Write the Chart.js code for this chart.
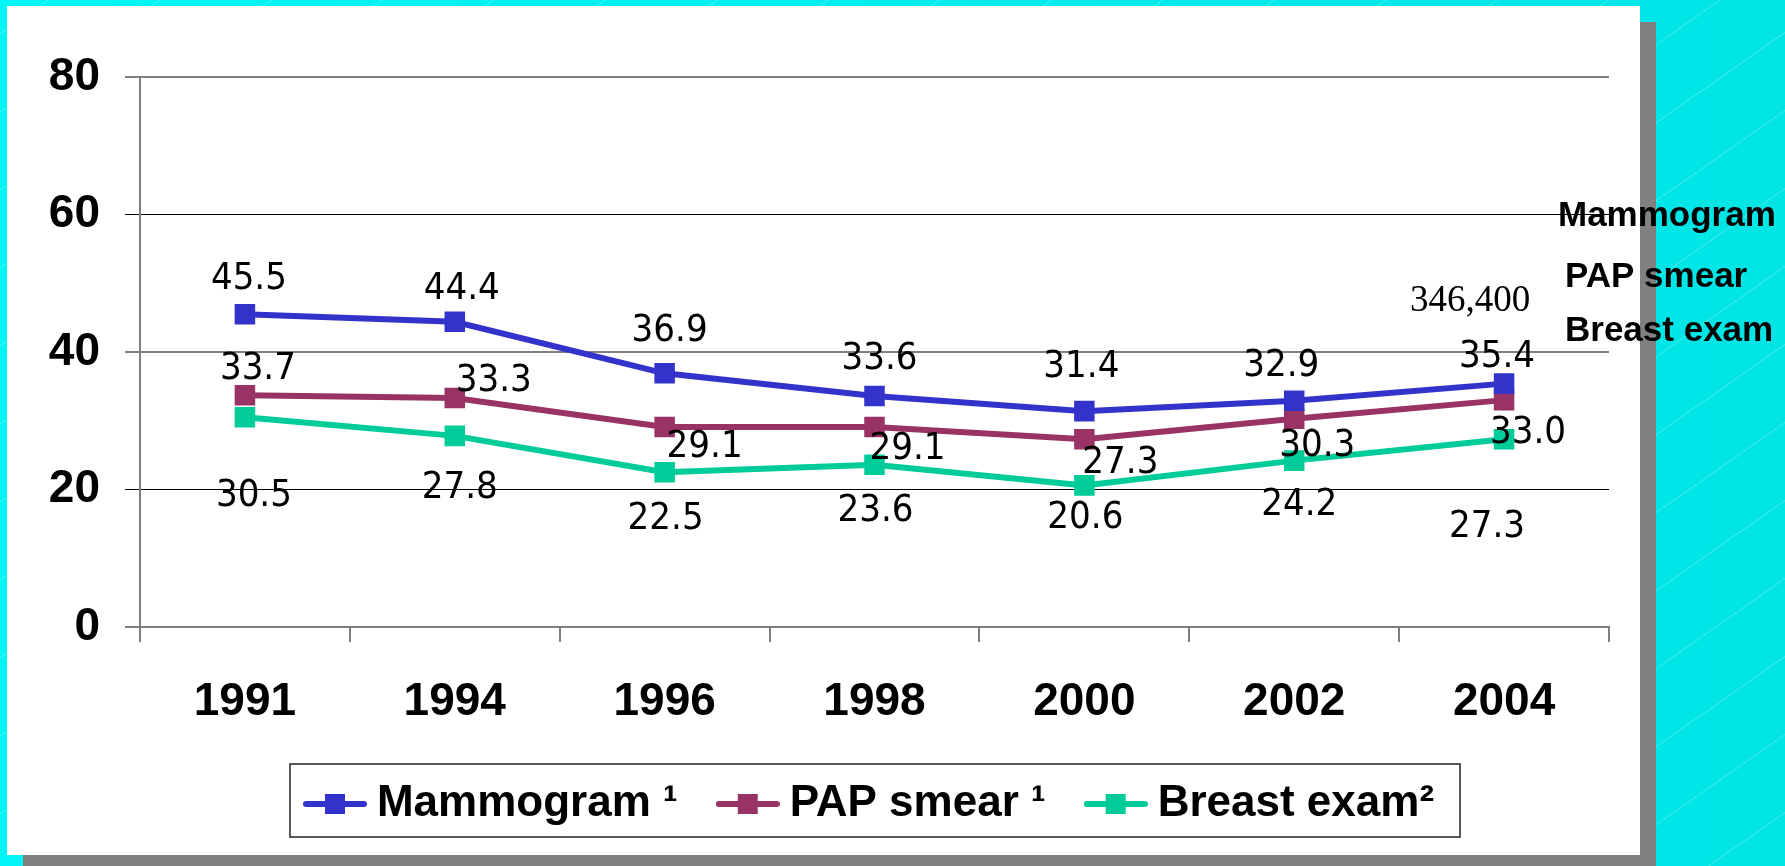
<!DOCTYPE html>
<html>
<head>
<meta charset="utf-8">
<script src="https://cdn.jsdelivr.net/npm/chart.js@4.4.0/dist/chart.umd.min.js"></script>
<style>
  html, body { margin: 0; padding: 0; background: #00e8e8; }
  #wrap { width: 1785px; height: 866px; }
</style>
</head>
<body>
<div id="wrap"><canvas id="chart" width="1785" height="866"></canvas></div>
<script>
// data
const years = ['1991', '1994', '1996', '1998', '2000', '2002', '2004'];
const mammogram = [45.5, 44.4, 36.9, 33.6, 31.4, 32.9, 35.4];
const papSmear = [33.7, 33.3, 29.1, 29.1, 27.3, 30.3, 33.0];
const breastExam = [30.5, 27.8, 22.5, 23.6, 20.6, 24.2, 27.3];
const seriesNames = ['Mammogram \u00b9', 'PAP smear \u00b9', 'Breast exam\u00b2'];
const sideNames = ['Mammogram', 'PAP smear', 'Breast exam'];
const yTicks = [0, 20, 40, 60, 80];
const extraNote = '346,400';

const colors = ['#3333cc', '#993366', '#00cc99'];

// where each value label sits relative to its point (px)
const labelShift = [
  [[4, -35], [7, -33], [5, -42], [5, -37], [-3, -44], [-13, -35], [-7, -27]],
  [[13, -26], [39, -17], [40, 20], [33, 22], [36, 24], [23, 27], [24, 33]],
  [[9, 79], [5, 52], [1, 47], [1, 46], [1, 33], [5, 44], [-17, 88]]
];

const boldFont = '"Liberation Sans", Arial, sans-serif';

function legendMark(color) {
  const c = document.createElement('canvas');
  c.width = 64; c.height = 22;
  const g = c.getContext('2d');
  g.strokeStyle = color;
  g.lineWidth = 6;
  g.lineCap = 'round';
  g.beginPath(); g.moveTo(3, 11); g.lineTo(61, 11); g.stroke();
  g.fillStyle = color;
  g.fillRect(22, 1, 20, 20);
  return c;
}
const marks = colors.map(legendMark);

const backdrop = {
  id: 'backdrop',
  beforeDraw(chart) {
    const { ctx, width, height } = chart;
    ctx.save();
    const grad = ctx.createLinearGradient(0, 0, width, 0);
    grad.addColorStop(0, '#00f6f6');
    grad.addColorStop(1, '#00e4e4');
    ctx.fillStyle = grad;
    ctx.fillRect(0, 0, width, height);
    // faint diagonal streaks
    ctx.strokeStyle = 'rgba(255,255,255,0.3)';
    ctx.lineWidth = 1;
    for (let k = -200; k < height + width; k += 78) {
      ctx.beginPath();
      ctx.moveTo(0, k);
      ctx.lineTo(width, k - width * 0.7);
      ctx.stroke();
    }
    // shadow + white panel
    ctx.fillStyle = '#808080';
    ctx.fillRect(23, 22, 1633, height - 22);
    ctx.fillStyle = '#ffffff';
    ctx.fillRect(7, 6, 1633, 849);
    ctx.restore();
  }
};

// keep the legend centred under the plot area
const legendShift = {
  id: 'legendShift',
  afterLayout(chart) {
    const lg = chart.legend;
    const a = chart.chartArea;
    const dx = (a.left + a.right) / 2 - (lg.left + lg.right) / 2;
    lg.left += dx;
    lg.right += dx;
  }
};

const valueLabels = {
  id: 'valueLabels',
  afterDatasetsDraw(chart) {
    const ctx = chart.ctx;
    ctx.save();
    ctx.font = '38px "DejaVu Sans Condensed", "Liberation Sans", sans-serif';
    ctx.fillStyle = '#000';
    ctx.textAlign = 'center';
    ctx.textBaseline = 'middle';
    chart.data.datasets.forEach((ds, i) => {
      chart.getDatasetMeta(i).data.forEach((pt, j) => {
        const [dx, dy] = labelShift[i][j];
        ctx.fillText(ds.data[j].toFixed(1), pt.x + dx, pt.y + dy);
      });
    });
    ctx.restore();
  }
};

const extras = {
  id: 'extras',
  afterDraw(chart) {
    const ctx = chart.ctx;
    ctx.save();
    // box round the legend
    const hb = chart.legend.legendHitBoxes;
    if (hb && hb.length) {
      const last = hb[hb.length - 1];
      const left = hb[0].left - 25;
      const right = last.left + last.width + 26;
      const cy = hb[0].top + hb[0].height / 2;
      ctx.strokeStyle = '#222';
      ctx.lineWidth = 1.5;
      ctx.strokeRect(left, cy - 40, right - left, 73);
    }
    // side labels
    ctx.fillStyle = '#000';
    ctx.textBaseline = 'alphabetic';
    ctx.textAlign = 'left';
    ctx.font = 'bold 35px ' + boldFont;
    ctx.fillText(sideNames[0], 1558, 226);
    ctx.fillText(sideNames[1], 1565, 287);
    ctx.fillText(sideNames[2], 1565, 341);
    ctx.textAlign = 'center';
    ctx.font = '37px "Liberation Serif", "Times New Roman", serif';
    ctx.fillText(extraNote, 1470, 311);
    ctx.restore();
  }
};

const tickFont = { family: boldFont, size: 46, weight: 'bold' };

new Chart(document.getElementById('chart'), {
  type: 'line',
  data: {
    labels: years,
    datasets: [mammogram, papSmear, breastExam].map((vals, i) => ({
      label: seriesNames[i],
      data: vals,
      borderColor: colors[i],
      backgroundColor: colors[i],
      borderWidth: 6,
      pointStyle: 'rect',
      pointRadius: 14.5,
      pointBorderWidth: 0,
      tension: 0,
      fill: false
    }))
  },
  options: {
    responsive: false,
    animation: false,
    layout: { padding: { left: 0, right: 176, top: 77, bottom: 30 } },
    plugins: {
      tooltip: { enabled: false },
      legend: {
        position: 'bottom',
        labels: {
          usePointStyle: true,
          pointStyleWidth: 40,
          padding: 50,
          color: '#000',
          font: { family: boldFont, size: 44, weight: 'bold' },
          generateLabels(chart) {
            return chart.data.datasets.map((ds, i) => ({
              text: ds.label,
              pointStyle: marks[i],
              fillStyle: colors[i],
              strokeStyle: colors[i],
              lineWidth: 0,
              hidden: false,
              datasetIndex: i
            }));
          }
        }
      }
    },
    scales: {
      x: {
        offset: true,
        grid: { offset: true, drawOnChartArea: false, tickLength: 15, color: '#808080', lineWidth: 2 },
        border: { color: '#808080', width: 2 },
        afterFit(s) { s.height = 105; },
        ticks: { padding: 33, color: '#000', font: tickFont, maxRotation: 0 }
      },
      y: {
        min: 0,
        max: 80,
        afterBuildTicks(s) { s.ticks = yTicks.map(v => ({ value: v })); },
        afterFit(s) { s.width = 140; },
        grid: {
          tickLength: 15,
          color: c => (c.tick && c.tick.value % 40 === 0) ? '#808080' : '#000',
          lineWidth: c => (c.tick && c.tick.value % 40 === 0) ? 2 : 1
        },
        border: { color: '#808080', width: 2 },
        ticks: { padding: 25, color: '#000', font: tickFont }
      }
    }
  },
  plugins: [backdrop, legendShift, valueLabels, extras]
});
</script>
</body>
</html>
